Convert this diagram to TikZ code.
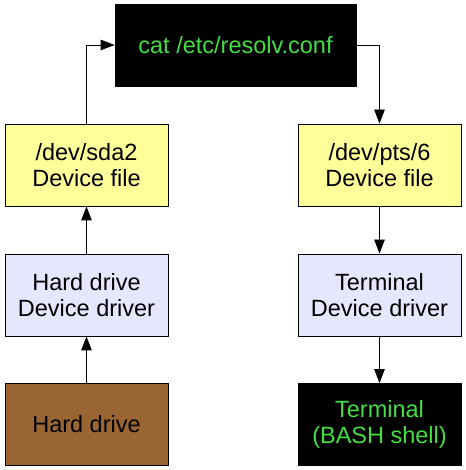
\documentclass[tikz,border=0pt]{standalone}
\usepackage{fontspec}
\setmainfont{Liberation Sans}
\usetikzlibrary{arrows.meta}
\definecolor{boxyellow}{HTML}{FFFF99}
\definecolor{boxlav}{HTML}{E6E6FF}
\definecolor{boxbrown}{HTML}{996633}
\definecolor{termgreen}{HTML}{44DD44}
\tikzset{
  x=1pt,y=1pt,
  box/.style={draw=black, line width=0.8pt, minimum width=163pt, minimum height=82pt,
    inner sep=0pt, align=center, font=\fontsize{23.5}{26.7}\selectfont},
  yellowbox/.style={box, fill=boxyellow},
  lavbox/.style={box, fill=boxlav},
  brownbox/.style={box, fill=boxbrown},
  blackbox/.style={box, fill=black, draw=black, text=termgreen},
  conn/.style={draw=black, line width=0.8pt, -{Triangle[length=14pt,width=10.5pt]}}
}
\begin{document}
\begin{tikzpicture}
\useasboundingbox (0,0) rectangle (465,470);
\node[blackbox, minimum width=241pt] (cat) at (235.5,425) {cat /etc/resolv.conf};
\node[yellowbox] (lf) at (86.5,305) {/dev/sda2\\Device file};
\node[lavbox] (ld) at (86.5,175) {Hard drive\\Device driver};
\node[brownbox] (hd) at (86.5,45.5) {Hard drive};
\node[yellowbox] (rf) at (379.5,305) {/dev/pts/6\\Device file};
\node[lavbox] (rd) at (379.5,175) {Terminal\\Device driver};
\node[blackbox] (term) at (379.5,45.5) {Terminal\\(BASH shell)};
\draw[conn] (hd) -- (ld);
\draw[conn] (ld) -- (lf);
\draw[conn] (lf.north) |- (cat.west);
\draw[conn] (cat.east) -| (rf.north);
\draw[conn] (rf) -- (rd);
\draw[conn] (rd) -- (term);
\end{tikzpicture}
\end{document}
